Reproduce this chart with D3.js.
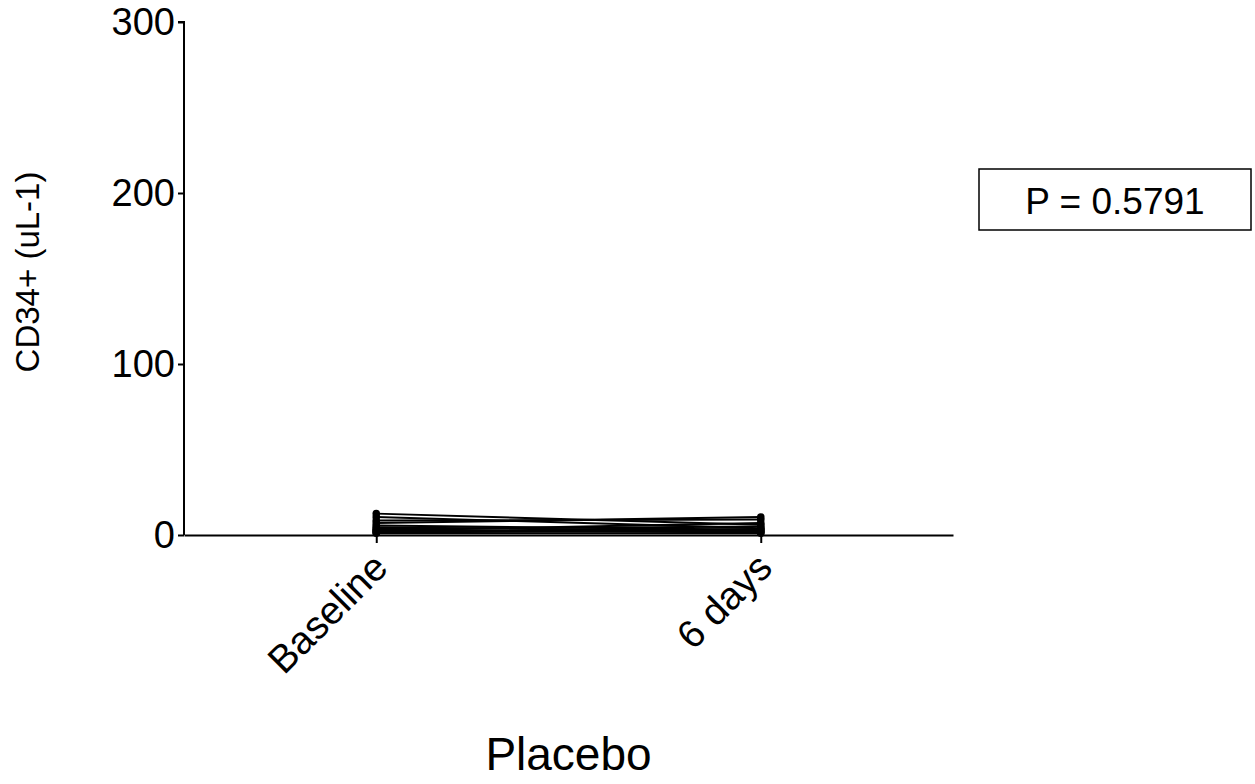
<!DOCTYPE html>
<html><head><meta charset="utf-8">
<script src="https://cdn.jsdelivr.net/npm/d3@7"></script>
<style>body{margin:0;background:#fff;} text{font-family:"Liberation Sans",Arial,sans-serif;}</style>
</head><body>
<svg id="c" width="1255" height="784"></svg>
<script>
const categories = ["Baseline", "6 days"];
const baselineValues = [12.5, 10.5, 8.5, 7, 5.5, 4.5, 3.5, 3, 2.5, 2, 1.5, 1];
const day6Values     = [6, 4, 9, 10.5, 3, 2, 5, 1.5, 7, 3.5, 2.5, 1];
const yTicks = [0, 100, 200, 300];
const pLabel = "P = 0.5791";
const yTitle = "CD34+ (uL-1)";
const xTitle = "Placebo";

const svg = d3.select("#c");
const L = 184, R = 953, T = 22, B = 535;
const x = d3.scalePoint().domain(categories).range([L, R]).padding(0.5);
const y = d3.scaleLinear().domain([0, 300]).range([B, T]);

// lines
const subjects = baselineValues.map((v, i) => [v, day6Values[i]]);
const line = d3.line().x((d, i) => x(categories[i])).y(d => y(d));
svg.append("g").selectAll("path").data(subjects).join("path")
  .attr("d", line).attr("fill", "none").attr("stroke", "#000").attr("stroke-width", 2);
svg.append("g").selectAll("g").data(subjects).join("g").each(function(d){
  d3.select(this).selectAll("circle").data(d).join("circle")
    .attr("cx", (v, i) => x(categories[i])).attr("cy", v => y(v)).attr("r", 3.8).attr("fill", "#000");
});

// y axis
const ya = svg.append("g").attr("transform", `translate(${L},0)`)
  .call(d3.axisLeft(y).tickValues(yTicks).tickSize(6).tickPadding(3).tickFormat(d3.format("d")));
ya.select(".domain").attr("stroke-width", 2).attr("d", `M-6,${T}H0V${B}`);
ya.selectAll(".tick line").attr("stroke-width", 2);
ya.selectAll(".tick text").attr("font-size", 38).attr("fill", "#000").attr("font-family", "Liberation Sans, Arial, sans-serif");

// x axis
const xa = svg.append("g").attr("transform", `translate(0,${B})`)
  .call(d3.axisBottom(x).tickSize(8).tickSizeOuter(0));
xa.select(".domain").attr("stroke-width", 2);
xa.selectAll(".tick line").attr("stroke-width", 2);
xa.selectAll(".tick text").attr("font-size", 39).attr("fill", "#000")
  .attr("font-family", "Liberation Sans, Arial, sans-serif")
  .attr("text-anchor", "end").attr("dy", null).attr("y", 0)
  .attr("transform", "translate(13,35) rotate(-45)");

// titles
svg.append("text").attr("x", (L + R) / 2).attr("y", 770).attr("text-anchor", "middle")
  .attr("font-size", 46).text(xTitle);
svg.append("text").attr("transform", `translate(39,${272}) rotate(-90)`).attr("text-anchor", "middle")
  .attr("font-size", 33).text(yTitle);

// P box
svg.append("rect").attr("x", 979).attr("y", 169).attr("width", 272).attr("height", 61)
  .attr("fill", "none").attr("stroke", "#000").attr("stroke-width", 1.5);
svg.append("text").attr("x", 1115).attr("y", 214).attr("text-anchor", "middle")
  .attr("font-size", 37).text(pLabel);
</script>
</body></html>
